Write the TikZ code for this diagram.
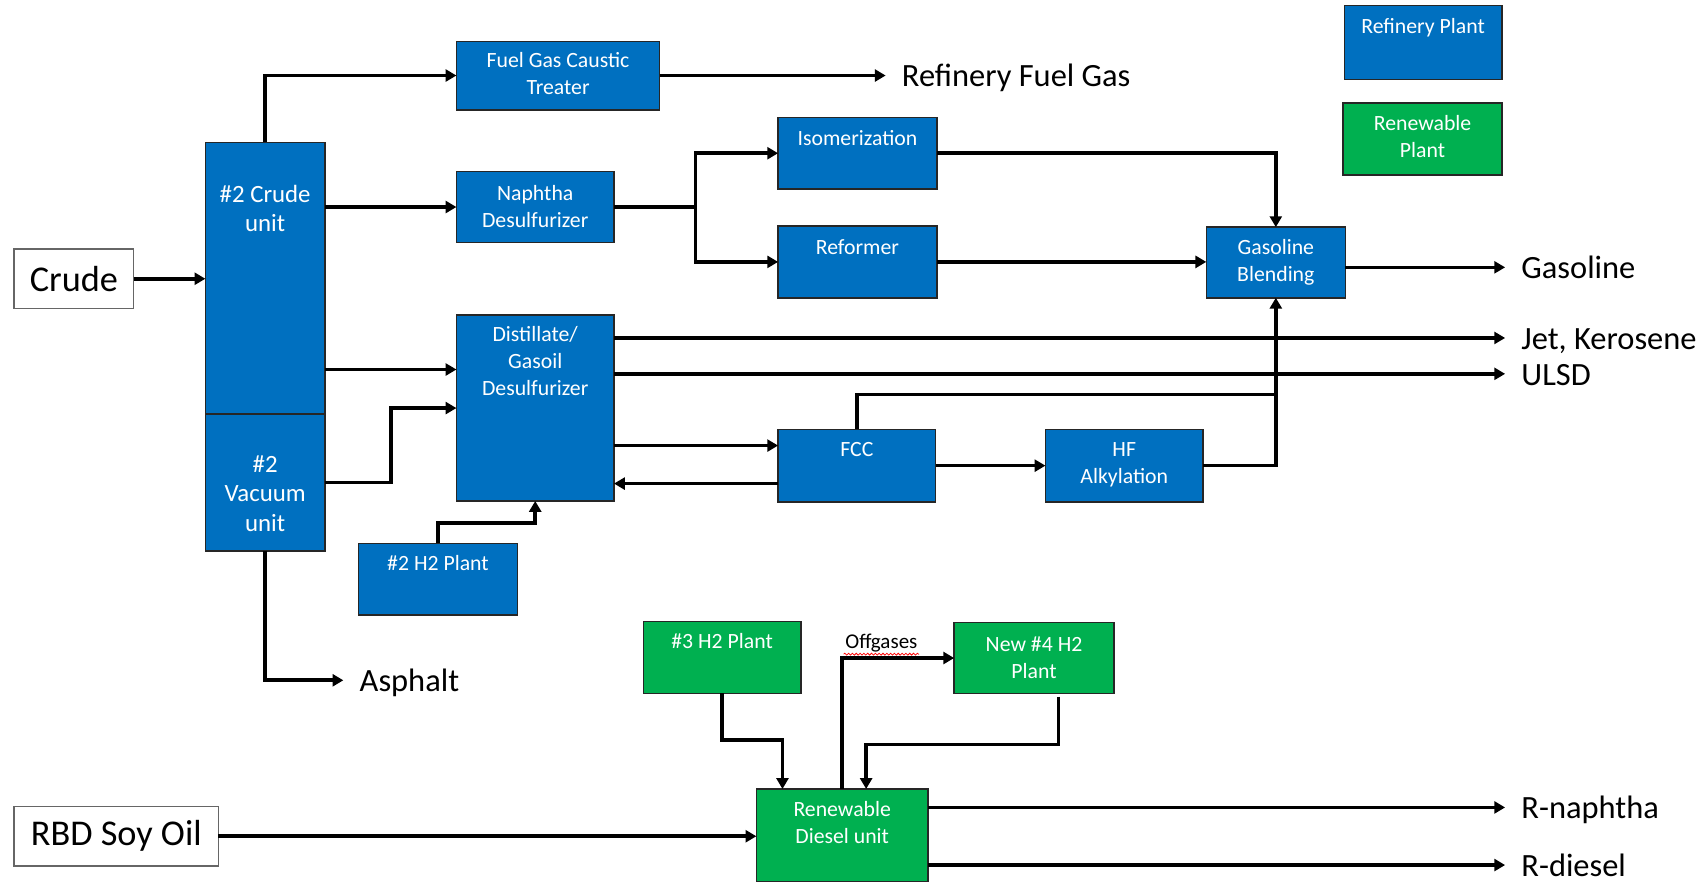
\documentclass[tikz,border=0pt]{standalone}
\usepackage{fontspec}
\setmainfont{Carlito}
\usetikzlibrary{arrows.meta,calc,decorations.pathmorphing}

\definecolor{refblue}{HTML}{0070C0}
\definecolor{renewgreen}{HTML}{00B050}

\begin{document}
\begin{tikzpicture}[
    x=0.02cm, y=-0.02cm,
    plant/.style={draw=black!85, line width=.8pt, fill=refblue, text=white, inner sep=0pt, outer sep=0pt,
        align=center, font=\fontsize{11.4}{14.2}\selectfont, text height=.5cm},
    greenplant/.style={plant, fill=renewgreen},
    feed/.style={draw=black!60, line width=.7pt, fill=white, inner sep=0pt, outer sep=0pt,
        font=\fontsize{19}{22}\selectfont},
    prod/.style={anchor=west, inner xsep=.3cm, inner ysep=0pt, outer sep=0pt,
        font=\fontsize{17}{20}\selectfont, text height=12pt, text depth=0pt},
    pipe/.style={line width=1.9pt},
    flow/.style={pipe, -{Triangle[length=.2cm, width=.22cm]}}
]
\useasboundingbox (0,0) rectangle (1568,813);

% feeds
\node[feed, minimum width=2.2cm, minimum height=1.1cm] (crude) at (68,256.5) {Crude};
\node[feed, minimum width=3.76cm, minimum height=1.1cm] (soy) at (107,769.5) {RBD Soy Oil};

% refinery units (text height runs to the baseline of the last line)
\node[plant, minimum width=2.2cm, text height=1.64cm, text depth=3.36cm,
    font=\fontsize{13}{15.4}\selectfont] (cdu) at (244,256) {\#2 Crude\\unit};
\node[plant, minimum width=2.2cm, text height=2.16cm, text depth=.36cm,
    font=\fontsize{13}{15.4}\selectfont] (vac) at (244,444) {\#2\\Vacuum\\unit};
\node[plant, minimum width=3.74cm, text height=.98cm, text depth=.28cm] (fgct) at (513.5,69.5) {Fuel Gas Caustic\\Treater};
\node[plant, minimum width=2.9cm, text height=1.02cm, text depth=.28cm] (nds) at (492.5,190.5) {Naphtha\\Desulfurizer};
\node[plant, minimum width=2.92cm, text height=.52cm, text depth=.8cm] (iso) at (789,141) {Isomerization};
\node[plant, minimum width=2.92cm, text height=.52cm, text depth=.8cm] (ref) at (789,241) {Reformer};
\node[plant, minimum width=2.56cm, text height=1cm, text depth=.3cm] (gbl) at (1174,241.5) {Gasoline\\Blending};
\node[plant, minimum width=2.9cm, text height=1.48cm, text depth=1.94cm] (dgd) at (492.5,375.5) {Distillate/\\Gasoil\\Desulfurizer};
\node[plant, minimum width=2.9cm, text depth=.84cm] (fcc) at (788.5,428.5) {FCC};
\node[plant, minimum width=2.9cm, text height=1cm, text depth=.34cm] (hf) at (1034.5,428.5) {HF\\Alkylation};
\node[plant, minimum width=2.92cm, text depth=.82cm] (h2a) at (403,533) {\#2 H2 Plant};

% renewable units
\node[greenplant, minimum width=2.9cm, text depth=.82cm] (h2b) at (664.5,605) {\#3 H2 Plant};
\node[greenplant, minimum width=2.94cm, text height=1.02cm, text depth=.28cm] (h2c) at (951.5,605.5) {New \#4 H2\\Plant};
\node[greenplant, minimum width=3.16cm, text height=1cm, text depth=.7cm] (rdu) at (775,768.5) {Renewable\\Diesel unit};

% legend
\node[plant, minimum width=2.9cm, text height=.52cm, text depth=.84cm] (legref) at (1309.5,39) {Refinery Plant};
\node[greenplant, minimum width=2.92cm, text height=1cm, text depth=.32cm] (legren) at (1309,128) {Renewable\\Plant};

% products
\node[prod] (fuelgas) at (815,69) {Refinery Fuel Gas};
\node[prod] (gasoline) at (1385,246) {Gasoline};
\node[prod] (jet) at (1385,311) {Jet, Kerosene};
\node[prod] (ulsd) at (1385,344) {ULSD};
\node[prod] (asphalt) at (316,626) {Asphalt};
\node[prod] (rnaph) at (1385,743) {R-naphtha};
\node[prod] (rdiesel) at (1385,796) {R-diesel};

% refinery streams
\draw[flow] (crude.east) -- (crude.east -| cdu.west);
\draw[flow] (cdu.north) |- (fgct.west);
\draw[flow] (fgct.east) -- (fgct.east -| fuelgas.west);
\draw[flow] (cdu.east |- nds.west) -- (nds.west);
\coordinate (nsplit) at ($(nds.east)+(75,0)$);
\draw[pipe] (nds.east) -- (nsplit);
\draw[flow] (nsplit) |- (iso.west);
\draw[flow] (nsplit) |- (ref.west);
\draw[flow] (iso.east) -| (gbl.north);
\draw[flow] (ref.east) -- (ref.east -| gbl.west);
\draw[flow] (gbl.east |- gasoline.west) -- (gasoline.west);
\coordinate (dgdin) at ($(dgd.north west)+(0,50)$);
\draw[flow] (cdu.east |- dgdin) -- (dgdin);
\draw[flow] (vac.east) -- ++(61,0) |- (dgd.west);
\draw[flow] (dgd.east |- jet.west) -- (jet.west);
\draw[flow] (dgd.east |- ulsd.west) -- (ulsd.west);
\coordinate (fccin) at ($(fcc.north west)+(0,15)$);
\coordinate (fccout) at ($(fcc.south west)+(0,-17)$);
\draw[flow] (dgd.east |- fccin) -- (fccin);
\draw[flow] (fccout) -- (fccout -| dgd.east);
\draw[flow] (fcc.east) -- (hf.west);
\draw[pipe] (fcc.north) |- ($(gbl.south)+(0,89)$);
\draw[flow] (hf.east) -| (gbl.south);
\draw[flow] (h2a.north) -- ++(0,-19) -| (dgd.south);
\draw[flow] (vac.south) |- (asphalt.west);

% renewable streams
\draw[flow] (soy.east) -- (soy.east -| rdu.west);
\draw[flow] (h2b.south) -- ++(0,43) -| ($(rdu.north west)+(24,0)$);
\draw[flow] (rdu.north) |- node[pos=.675, above=2pt, inner sep=0pt, font=\fontsize{11}{13}\selectfont] (offg) {Offgases} (h2c.west);
\draw[red, line width=.4pt, decorate, decoration={snake, amplitude=.5pt, segment length=2pt}]
    (offg.south west) -- (offg.south east);
\draw[flow] ($(h2c.south)+(22.5,3)$) -- ++(0,44) -| ($(rdu.north west)+(101,0)$);
\draw[flow] (rdu.east |- rnaph.west) -- (rnaph.west);
\draw[flow] (rdu.east |- rdiesel.west) -- (rdiesel.west);
\end{tikzpicture}
\end{document}
